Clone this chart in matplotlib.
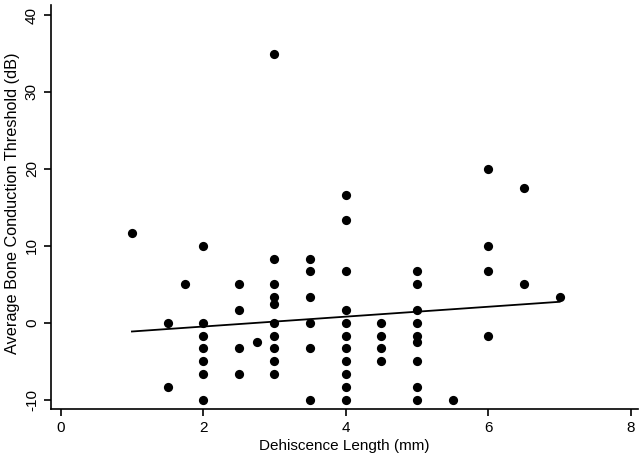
import numpy as np
import matplotlib.pyplot as plt

plt.rcParams['font.family'] = ['Liberation Sans', 'DejaVu Sans']

# Dehiscence length (mm) and average bone conduction threshold (dB)
length_mm = [
    1.0,
    1.5, 1.5,
    1.75,
    2, 2, 2, 2, 2, 2, 2,
    2.5, 2.5, 2.5, 2.5,
    2.75,
    3, 3, 3, 3, 3, 3, 3, 3, 3, 3,
    3.5, 3.5, 3.5, 3.5, 3.5, 3.5,
    4, 4, 4, 4, 4, 4, 4, 4, 4, 4, 4,
    4.5, 4.5, 4.5, 4.5,
    5, 5, 5, 5, 5, 5, 5, 5, 5,
    5.5,
    6, 6, 6, 6,
    6.5, 6.5,
    7.0,
]
threshold_db = [
    11.67,
    0, -8.33,
    5,
    10, 0, -1.67, -3.33, -5, -6.67, -10,
    5, 1.67, -3.33, -6.67,
    -2.5,
    35, 8.33, 5, 3.33, 2.5, 0, -1.67, -3.33, -5, -6.67,
    8.33, 6.67, 3.33, 0, -3.33, -10,
    16.67, 13.33, 6.67, 1.67, 0, -1.67, -3.33, -5, -6.67, -8.33, -10,
    0, -1.67, -3.33, -5,
    6.67, 5, 1.67, 0, -1.67, -2.5, -5, -8.33, -10,
    -10,
    20, 10, 6.67, -1.67,
    17.5, 5,
    3.33,
]
# fitted line (ends)
fit_x = [1.0, 7.0]
fit_y = [-1.13, 2.73]

x_ticks = [0, 2, 4, 6, 8]
y_ticks = [-10, 0, 10, 20, 30, 40]

fig = plt.figure(figsize=(6.44, 4.59), dpi=100)
ax = fig.add_axes([0.0787, 0.109, 0.912, 0.880])

ax.scatter(length_mm, threshold_db, s=44, color='black', linewidths=0, zorder=3)
ax.plot(fit_x, fit_y, color='black', linewidth=1.3)

ax.set_xlim(-0.14, 8.1)
ax.set_ylim(-11.2, 41.3)
ax.set_xticks(x_ticks)
ax.set_yticks(y_ticks)
ax.set_yticklabels([str(t) for t in y_ticks], rotation=90, va='center')

for side in ['top', 'right']:
    ax.spines[side].set_visible(False)
for side in ['left', 'bottom']:
    ax.spines[side].set_linewidth(1.2)
ax.tick_params(direction='out', length=5, width=1.2, labelsize=11, colors='black')

ax.set_xlabel("Dehiscence Length (mm)", fontsize=11, labelpad=3)
ax.set_ylabel("Average Bone Conduction Threshold (dB)", fontsize=11.7)
ax.yaxis.set_label_coords(-0.053, 0.51)

plt.savefig("out.png", dpi=100)
